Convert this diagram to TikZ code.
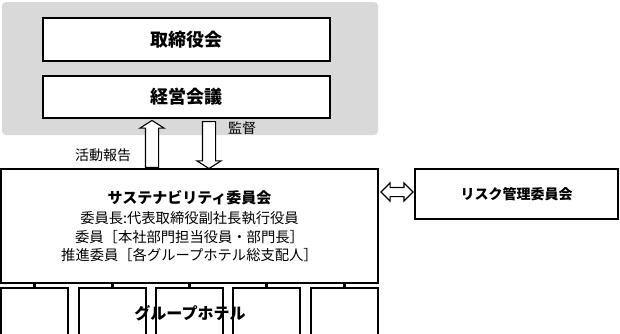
\documentclass[tikz,border=0pt]{standalone}
\usepackage{fontspec}
\setmainfont{Noto Sans CJK JP}
\usetikzlibrary{shapes.arrows}
\definecolor{panelgray}{RGB}{217,217,217}

\tikzset{
  orgbox/.style={draw=black,line width=1.4pt,fill=white,inner sep=0pt,align=center},
  boldlabel/.style={font=\fontsize{16}{18}\selectfont\bfseries},
  plainlabel/.style={font=\fontsize{14}{18}\selectfont},
  uparrow/.style={single arrow,draw=black,line width=1.1pt,fill=white,inner sep=6pt,
    minimum width=23pt,minimum height=47pt,single arrow head extend=5.5pt,
    single arrow tip angle=115,anchor=tail},
  sidearrow/.style={double arrow,draw=black,line width=1.1pt,fill=white,inner sep=4pt,
    minimum width=17pt,minimum height=32pt,double arrow head extend=4.5pt}
}

\begin{document}
\begin{tikzpicture}[x=1pt,y=-1pt]
  \useasboundingbox (0,0) rectangle (620,333);
  \clip (0,0) rectangle (620,333);
  % Governance panel
  \node[fill=panelgray,rounded corners=4pt,minimum width=376pt,minimum height=133pt,
    inner sep=0pt] (panel) at (190,68.5) {};
  \node[orgbox,minimum width=287pt,minimum height=43pt,
    font=\fontsize{18}{20}\selectfont\bfseries] (board) at (186.5,39.5) {取締役会};
  \node[orgbox,minimum width=287pt,minimum height=42pt,
    font=\fontsize{18}{20}\selectfont\bfseries] (mgmt) at (186.5,97) {経営会議};
  % Sustainability committee
  \node[orgbox,minimum width=377pt,minimum height=114pt,
    font=\fontsize{14.3}{18.5}\selectfont] (sustain) at (189.5,226)
    {{\fontsize{15}{18}\selectfont\bfseries サステナビリティ委員会}\\[2pt]
     委員長:代表取締役副社長執行役員\\
     委員［本社部門担当役員・部門長］\\
     推進委員［各グループホテル総支配人］};
  % Risk committee
  \node[orgbox,minimum width=203pt,minimum height=50pt,
    font=\fontsize{14}{18}\selectfont\bfseries] (risk) at (516.5,194) {リスク管理委員会};
  % Reporting and supervision arrows
  \node[uparrow,rotate=90] (report) at (152,168) {};
  \node[uparrow,rotate=-90] (oversee) at (209,121) {};
  \node[plainlabel] (reportlbl) at (103,155) {活動報告};
  \node[plainlabel] (overseelbl) at (242,128) {監督};
  \node[sidearrow] (link) at (397,192) {};
  % Group hotels
  \node[orgbox,minimum width=67pt,minimum height=57pt] (hotel1) at (34.5,316.5) {};
  \node[orgbox,minimum width=67pt,minimum height=57pt] (hotel2) at (112.5,316.5) {};
  \node[orgbox,minimum width=67pt,minimum height=57pt] (hotel3) at (189.5,316.5) {};
  \node[orgbox,minimum width=67pt,minimum height=57pt] (hotel4) at (266.5,316.5) {};
  \node[orgbox,minimum width=67pt,minimum height=57pt] (hotel5) at (344.5,316.5) {};
  \node[boldlabel] (hotels) at (190,313) {グループホテル};
  \draw[line width=3pt] (hotel1.north) -- (hotel1.north |- sustain.south);
  \draw[line width=3pt] (hotel2.north) -- (hotel2.north |- sustain.south);
  \draw[line width=3pt] (hotel3.north) -- (hotel3.north |- sustain.south);
  \draw[line width=3pt] (hotel4.north) -- (hotel4.north |- sustain.south);
  \draw[line width=3pt] (hotel5.north) -- (hotel5.north |- sustain.south);
\end{tikzpicture}
\end{document}
